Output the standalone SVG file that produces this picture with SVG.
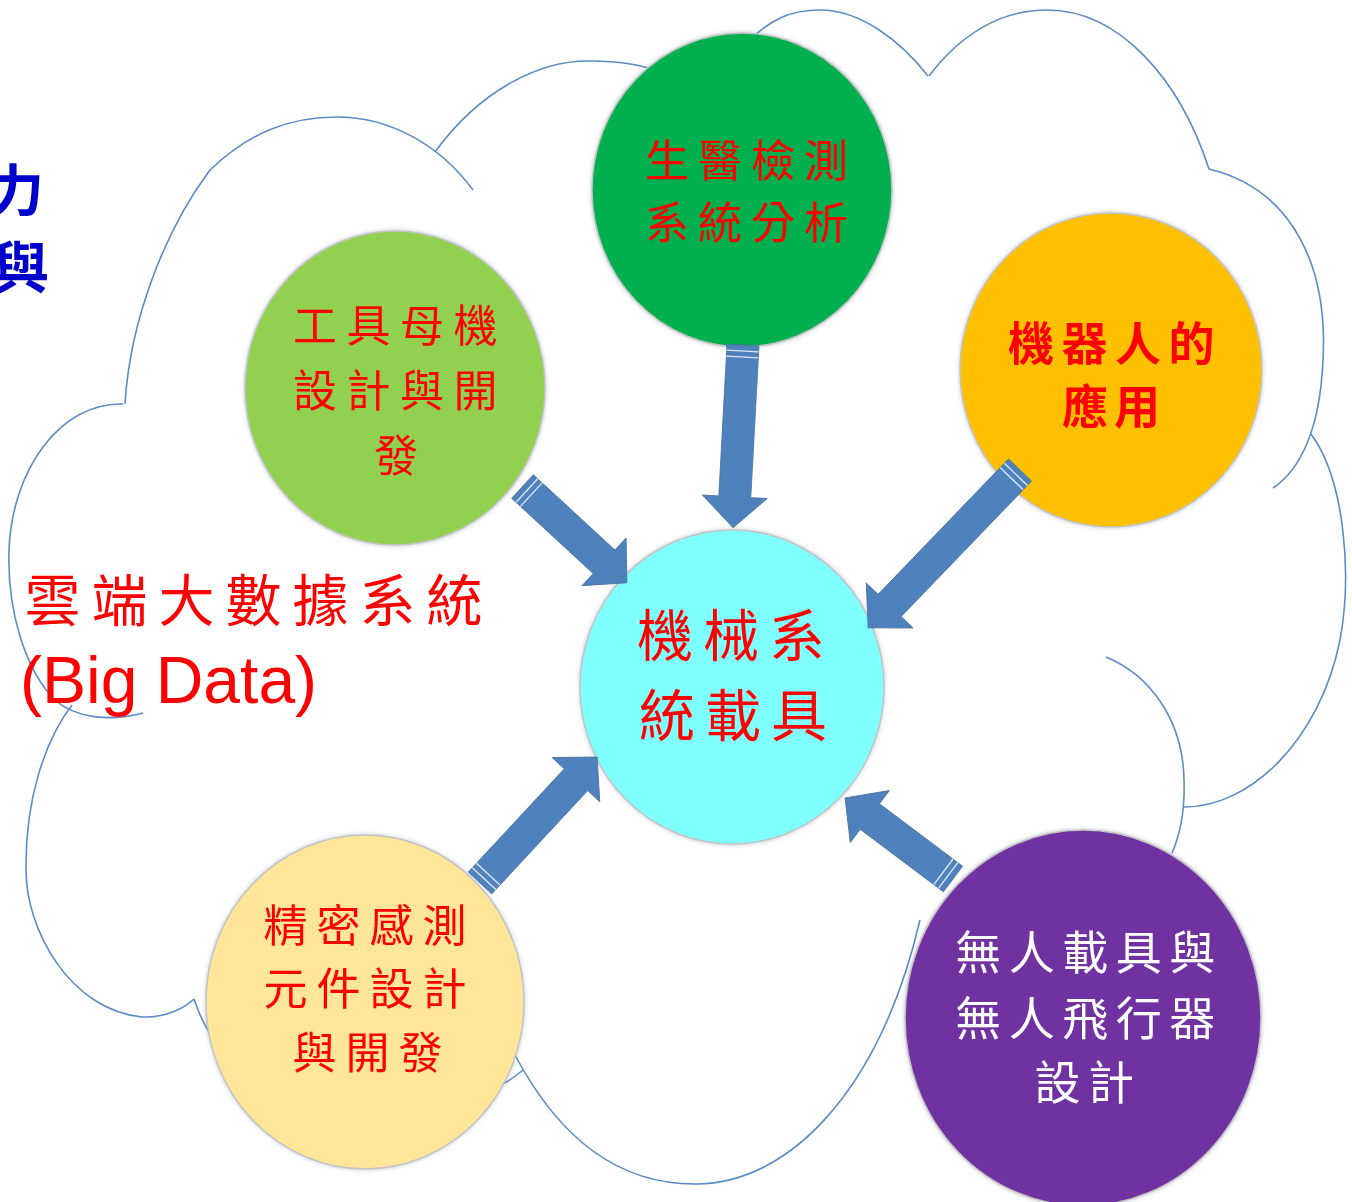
<svg xmlns="http://www.w3.org/2000/svg" width="1352" height="1202" viewBox="0 0 1352 1202">
<style>
.cloud{fill:none;stroke:#5B8CC6;stroke-width:1.6;}
.node{stroke:#c4c4c4;stroke-width:1.5;}
.cjk{font-family:"Noto Sans CJK TC","Noto Sans CJK SC",sans-serif;text-anchor:middle;}
.red{fill:#FF0000;}
.arrow{fill:#4F81BD;stroke:#41719C;stroke-width:0.8;}
.stripe{stroke:#DCE6F2;stroke-width:1.4;}
</style>
<defs>
<filter id="glow" x="-10%" y="-10%" width="120%" height="120%">
<feDropShadow dx="0" dy="0" stdDeviation="2" flood-color="#7f8fa6" flood-opacity="0.5"/>
</filter>
</defs>
<rect width="1352" height="1202" fill="#ffffff"/>

<g id="cloud">
<path class="cloud" d="M125,404 C130,320 165,230 210,170 C250,132 290,117 337,117 C390,117 440,145 473,190"/>
<path class="cloud" d="M123,404 C60,402 12,470 9,550 C7,610 25,670 55,700 C75,718 110,722 143,713"/>
<path class="cloud" d="M72,705 C45,740 25,800 26,870 C26,930 70,1010 142,1017 C165,1018 185,1008 194,999"/>
<path class="cloud" d="M194,999 C240,1140 440,1140 523,1070"/>
<path class="cloud" d="M515,1055 C560,1140 620,1185 697,1184 C790,1183 880,1090 920,920"/>
<path class="cloud" d="M1106,657 C1150,675 1183,720 1184,780 C1185,810 1180,835 1172,853"/>
<path class="cloud" d="M1183,807 C1250,808 1320,740 1340,640 C1352,575 1345,480 1311,434"/>
<path class="cloud" d="M1273,488 C1300,470 1320,430 1323,360 C1328,270 1295,190 1209,169"/>
<path class="cloud" d="M929,76 C960,35 1000,10 1047,10 C1120,10 1180,80 1209,169"/>
<path class="cloud" d="M928,76 C900,40 860,10 820,10 C790,10 770,20 750,40"/>
<path class="cloud" d="M435,152 C480,90 540,60 590,61 C620,61 640,64 660,72"/>
</g>

<g id="side-text">
<text x="44" y="211" font-family="Noto Sans CJK TC, sans-serif" font-size="56" font-weight="bold" fill="#0000CC" text-anchor="end">力</text>
<text x="49" y="288" font-family="Noto Sans CJK TC, sans-serif" font-size="56" font-weight="bold" fill="#0000CC" text-anchor="end">與</text>
</g>

<g id="bigdata-label">
<text class="cjk red" x="259" y="621" font-size="56" letter-spacing="11">雲端大數據系統</text>
<text x="20" y="703" font-family="Liberation Sans, Arial, sans-serif" font-size="66" fill="#FF0000">(Big Data)</text>
</g>

<g id="node-bio" filter="url(#glow)">
<ellipse class="node" cx="742" cy="190" rx="150" ry="157" fill="#00B050"/>
<text class="cjk red" x="751" y="177" font-size="44" letter-spacing="9">生醫檢測</text>
<text class="cjk red" x="751" y="239" font-size="44" letter-spacing="9">系統分析</text>
</g>

<g id="node-tool" filter="url(#glow)">
<ellipse class="node" cx="395" cy="388" rx="150" ry="157" fill="#92D050"/>
<text class="cjk red" x="400" y="342" font-size="44" letter-spacing="9.5">工具母機</text>
<text class="cjk red" x="400" y="407" font-size="44" letter-spacing="9.5">設計與開</text>
<text class="cjk red" x="396" y="472" font-size="44">發</text>
</g>

<g id="node-robot" filter="url(#glow)">
<ellipse class="node" cx="1111" cy="370" rx="151" ry="157" fill="#FFC000"/>
<text class="cjk red" x="1115" y="360" font-size="46" font-weight="bold" letter-spacing="7.5">機器人的</text>
<text class="cjk red" x="1114" y="423" font-size="46" font-weight="bold" letter-spacing="6">應用</text>
</g>

<g id="node-center" filter="url(#glow)">
<ellipse class="node" cx="732" cy="687" rx="152" ry="157" fill="#80FFFF"/>
<text class="cjk red" x="736" y="656" font-size="56" letter-spacing="10">機械系</text>
<text class="cjk red" x="738" y="736" font-size="56" letter-spacing="10">統載具</text>
</g>

<g id="node-sensor" filter="url(#glow)">
<ellipse class="node" cx="365" cy="1002" rx="159" ry="167" fill="#FFE699"/>
<text class="cjk red" x="369.5" y="942" font-size="44" letter-spacing="9">精密感測</text>
<text class="cjk red" x="369.5" y="1005" font-size="44" letter-spacing="9">元件設計</text>
<text class="cjk red" x="372" y="1069" font-size="44" letter-spacing="9">與開發</text>
</g>

<g id="node-uav" filter="url(#glow)">
<ellipse class="node" cx="1083" cy="1018" rx="178" ry="188" fill="#7030A0"/>
<text class="cjk" x="1089" y="969" font-size="46" letter-spacing="7.5" fill="#FFFFFF">無人載具與</text>
<text class="cjk" x="1089" y="1035" font-size="46" letter-spacing="7.5" fill="#FFFFFF">無人飛行器</text>
<text class="cjk" x="1088" y="1099" font-size="46" letter-spacing="7.5" fill="#FFFFFF">設計</text>
</g>

<g id="connectors">
<g transform="translate(743,345) rotate(93.1)">
<polygon class="arrow" points="0,-16 152,-16 152,-32.5 183,0 152,32.5 152,16 0,16"/>
<line class="stripe" x1="6" y1="-16" x2="6" y2="16"/><line class="stripe" x1="12" y1="-16" x2="12" y2="16"/>
</g>
<g transform="translate(522.5,486.5) rotate(42.7)">
<polygon class="arrow" points="0,-16 111,-16 111,-32.5 142,0 111,32.5 111,16 0,16"/>
<line class="stripe" x1="6" y1="-16" x2="6" y2="16"/><line class="stripe" x1="12" y1="-16" x2="12" y2="16"/>
</g>
<g transform="translate(1020,470) rotate(133.9)">
<polygon class="arrow" points="0,-16 188,-16 188,-32.5 219,0 188,32.5 188,16 0,16"/>
<line class="stripe" x1="6" y1="-16" x2="6" y2="16"/><line class="stripe" x1="12" y1="-16" x2="12" y2="16"/>
</g>
<g transform="translate(480,883) rotate(-47.1)">
<polygon class="arrow" points="0,-16 141,-16 141,-32.5 172,0 141,32.5 141,16 0,16"/>
<line class="stripe" x1="6" y1="-16" x2="6" y2="16"/><line class="stripe" x1="12" y1="-16" x2="12" y2="16"/>
</g>
<g transform="translate(953,879) rotate(-143.1)">
<polygon class="arrow" points="0,-16 104,-16 104,-32.5 135,0 104,32.5 104,16 0,16"/>
<line class="stripe" x1="6" y1="-16" x2="6" y2="16"/><line class="stripe" x1="12" y1="-16" x2="12" y2="16"/>
</g>
</g>
</svg>
